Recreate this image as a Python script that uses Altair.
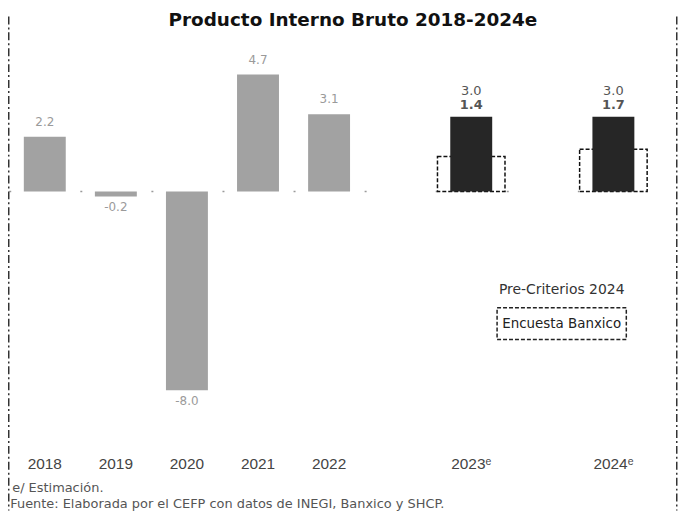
import altair as alt
import pandas as pd

# ---- data ----
hist_years = ["2018", "2019", "2020", "2021", "2022"]
hist_values = [2.2, -0.2, -8.0, 4.7, 3.1]
proj_years = ["2023ᵉ", "2024ᵉ"]
precriterios = [3.0, 3.0]
banxico = [1.4, 1.7]
legend_labels = ["Pre-Criterios 2024", "Encuesta Banxico"]
footnotes = ["e/ Estimación.",
             "Fuente: Elaborada por el CEFP con datos de INEGI, Banxico y SHCP."]
title_text = "Producto Interno Bruto 2018-2024e"

# category domain with blank spacer slots between projected years
domain = hist_years + [" "] + [proj_years[0]] + ["  "] + [proj_years[1]]

hist_df = pd.DataFrame({"cat": hist_years, "value": hist_values,
                        "label": [f"{v:.1f}" for v in hist_values]})
proj_df = pd.DataFrame({"cat": proj_years, "pre": precriterios, "banxico": banxico,
                        "pre_label": [f"{v:.1f}" for v in precriterios],
                        "bx_label": [f"{v:.1f}" for v in banxico]})
one = pd.DataFrame({"z": [0]})

W, H = 643.5, 400
SANS = "DejaVu Sans"
ARIAL = "Liberation Sans"

x_enc = alt.X("cat:N",
              scale=alt.Scale(domain=domain, paddingInner=0, paddingOuter=0),
              axis=alt.Axis(title=None, ticks=False, domain=False, labelAngle=0,
                            labelPadding=17, labelFontSize=15.5, labelFont=ARIAL,
                            labelColor="#444"))
y_scale = alt.Scale(domain=[-10, 6], nice=False, zero=False)

zero = alt.Chart(one).mark_rule(color="#9a9a9a", strokeWidth=1.5,
                                strokeDash=[2, 69.5]).encode(
    x=alt.value(0), x2=alt.value(W), y=alt.Y("z:Q", scale=y_scale, axis=None))

box = alt.Chart(proj_df).mark_bar(fillOpacity=0, stroke="#111", strokeWidth=1.5,
                                  strokeDash=[4, 2],
                                  width=alt.RelativeBandSize(0.95)).encode(
    x=x_enc, y=alt.Y("banxico:Q", scale=y_scale, axis=None))

hist = alt.Chart(hist_df).mark_bar(color="#a2a2a2",
                                   width=alt.RelativeBandSize(0.59)).encode(
    x=x_enc, y=alt.Y("value:Q", scale=y_scale, axis=None))

proj = alt.Chart(proj_df).mark_bar(color="#262626",
                                   width=alt.RelativeBandSize(0.59)).encode(
    x=x_enc, y=alt.Y("pre:Q", scale=y_scale, axis=None))

pos_lab = alt.Chart(hist_df).transform_filter("datum.value >= 0").mark_text(
    baseline="bottom", dy=-8, font=SANS, fontSize=12, color="#9a9a9a").encode(
    x=x_enc, y=alt.Y("value:Q", scale=y_scale, axis=None), text="label:N")
neg_lab = alt.Chart(hist_df).transform_filter("datum.value < 0").mark_text(
    baseline="top", dy=6, font=SANS, fontSize=12, color="#9a9a9a").encode(
    x=x_enc, y=alt.Y("value:Q", scale=y_scale, axis=None), text="label:N")

pre_lab = alt.Chart(proj_df).mark_text(
    baseline="bottom", dy=-19, font=SANS, fontSize=13, color="#555").encode(
    x=x_enc, y=alt.Y("pre:Q", scale=y_scale, axis=None), text="pre_label:N")
bx_lab = alt.Chart(proj_df).mark_text(
    baseline="bottom", dy=-5, font=SANS, fontSize=13, fontWeight="bold",
    color="#555").encode(
    x=x_enc, y=alt.Y("pre:Q", scale=y_scale, axis=None), text="bx_label:N")

# ---- manual legend ----
leg1 = alt.Chart(pd.DataFrame({"t": [legend_labels[0]]})).mark_text(
    font=SANS, fontSize=14, color="#333", align="center", baseline="middle").encode(
    x=alt.value(555.75), y=alt.value(249), text="t:N")
leg_box = alt.Chart(one).mark_rect(fillOpacity=0, stroke="#222", strokeWidth=1.5,
                                   strokeDash=[4, 2]).encode(
    x=alt.value(490.75), x2=alt.value(620.75), y=alt.value(267), y2=alt.value(299))
leg2 = alt.Chart(pd.DataFrame({"t": [legend_labels[1]]})).mark_text(
    font=SANS, fontSize=13.5, color="#222", align="center", baseline="middle").encode(
    x=alt.value(555.75), y=alt.value(283), text="t:N")

# ---- footnotes ----
foot1 = alt.Chart(pd.DataFrame({"t": [footnotes[0]]})).mark_text(
    font=SANS, fontSize=13, color="#555", align="left", baseline="middle").encode(
    x=alt.value(3), y=alt.value(448), text="t:N")
foot2 = alt.Chart(pd.DataFrame({"t": [footnotes[1]]})).mark_text(
    font=SANS, fontSize=13, color="#555", align="left", baseline="middle").encode(
    x=alt.value(1), y=alt.value(464), text="t:N")

# ---- dash-dot frame sides ----
frame_l = alt.Chart(one).mark_rule(color="#333", strokeWidth=1.5,
                                   strokeDash=[8, 3, 2, 3]).encode(
    x=alt.value(-0.5), y=alt.value(-26), y2=alt.value(471))
frame_r = alt.Chart(one).mark_rule(color="#333", strokeWidth=1.5,
                                   strokeDash=[8, 3, 2, 3]).encode(
    x=alt.value(671.5), y=alt.value(-26), y2=alt.value(471))

chart = alt.layer(
    zero, box, hist, proj, pos_lab, neg_lab, pre_lab, bx_lab,
    leg1, leg_box, leg2, foot1, foot2, frame_l, frame_r
).properties(
    width=W, height=H,
    title=alt.TitleParams(title_text, font=SANS, fontSize=18.5, fontWeight="bold",
                          color="#111", anchor="middle", frame="group",
                          dx=24, offset=-14),
    autosize=alt.AutoSizeParams(type="none"),
    padding={"left": 1.25, "top": 33, "right": 29.25, "bottom": 71},
    background="white",
).configure_view(stroke=None)

chart.save("out.html", embed_options={"renderer": "svg", "actions": False})
